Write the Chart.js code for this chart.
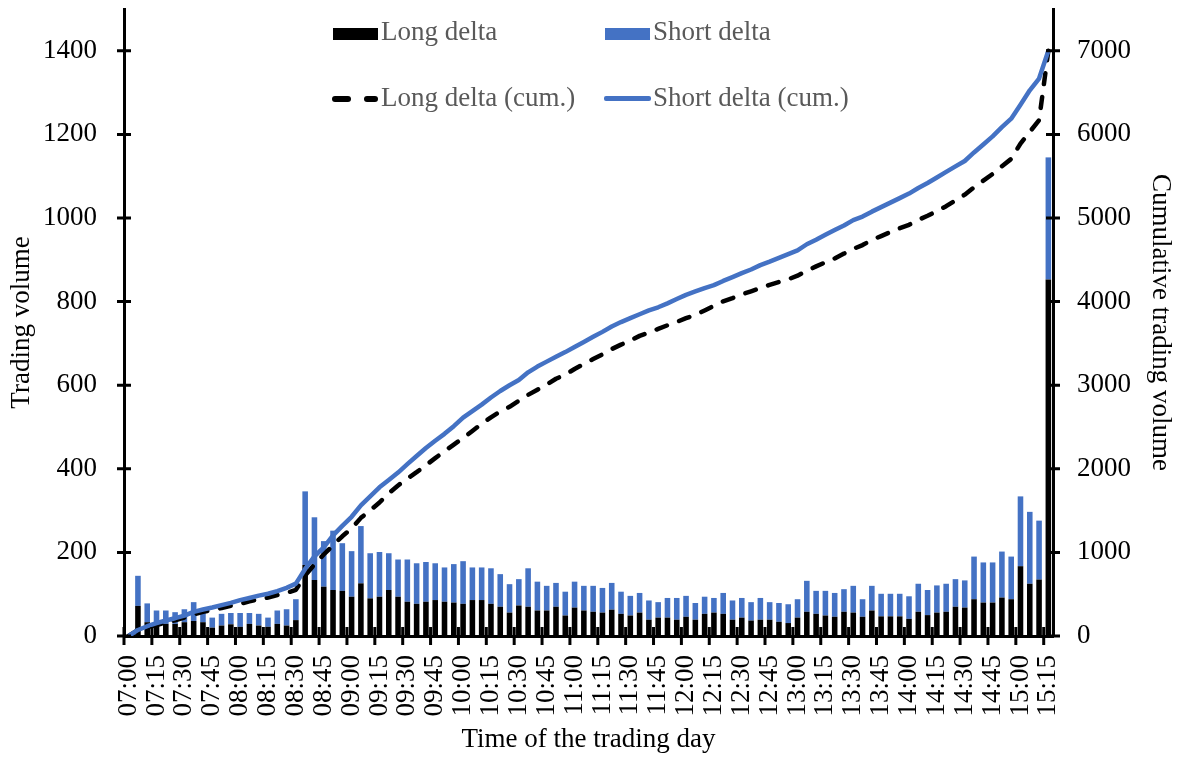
<!DOCTYPE html>
<html>
<head>
<meta charset="utf-8">
<title>Trading volume by time of day</title>
<script src="https://cdn.jsdelivr.net/npm/chart.js@4.4.0/dist/chart.umd.min.js"></script>
<style>
    body { margin: 0; background: #fff; }
    #wrap { position: relative; width: 1182px; height: 758px; }
    .legend-text {
        position: absolute;
        font-family: 'Liberation Serif', serif;
        font-size: 27px;
        line-height: 27px;
        color: #595959;
        white-space: nowrap;
    }
    .legend-mark { position: absolute; }
</style>
</head>
<body>
<div id="wrap">
    <canvas id="deltaChart" width="1182" height="758"></canvas>
    <div id="legend"></div>
</div>
<script>
// 5-minute intervals of the trading day
const categories = [
    '07:00','07:05','07:10','07:15','07:20','07:25','07:30','07:35','07:40','07:45','07:50','07:55',
    '08:00','08:05','08:10','08:15','08:20','08:25','08:30','08:35','08:40','08:45','08:50','08:55',
    '09:00','09:05','09:10','09:15','09:20','09:25','09:30','09:35','09:40','09:45','09:50','09:55',
    '10:00','10:05','10:10','10:15','10:20','10:25','10:30','10:35','10:40','10:45','10:50','10:55',
    '11:00','11:05','11:10','11:15','11:20','11:25','11:30','11:35','11:40','11:45','11:50','11:55',
    '12:00','12:05','12:10','12:15','12:20','12:25','12:30','12:35','12:40','12:45','12:50','12:55',
    '13:00','13:05','13:10','13:15','13:20','13:25','13:30','13:35','13:40','13:45','13:50','13:55',
    '14:00','14:05','14:10','14:15','14:20','14:25','14:30','14:35','14:40','14:45','14:50','14:55',
    '15:00','15:05','15:10','15:15'
];

// Bars (left axis)
const longDelta = [
    0, 72, 33, 25, 29, 29, 33, 36, 33, 20,
    25, 28, 22, 29, 25, 22, 29, 25, 38, 170,
    134, 118, 110, 108, 94, 126, 90, 94, 110, 94,
    82, 77, 82, 86, 82, 80, 77, 86, 86, 77,
    70, 56, 73, 70, 61, 61, 70, 49, 68, 61,
    58, 56, 63, 53, 49, 56, 39, 44, 44, 39,
    46, 39, 53, 56, 53, 39, 44, 37, 39, 39,
    34, 31, 44, 58, 53, 49, 46, 58, 56, 46,
    61, 47, 47, 47, 41, 58, 50, 56, 58, 70,
    68, 88, 80, 80, 92, 88, 167, 125, 135, 853
];
const shortDelta = [
    0, 72, 45, 36, 32, 28, 31, 45, 28, 24,
    28, 27, 33, 26, 28, 22, 32, 39, 50, 176,
    150, 109, 142, 114, 109, 137, 108, 107, 88, 89,
    101, 97, 95, 88, 82, 92, 102, 78, 78, 85,
    78, 68, 63, 92, 69, 59, 57, 57, 62, 59,
    62, 59, 64, 53, 47, 47, 46, 37, 47, 52,
    50, 40, 41, 35, 50, 46, 47, 44, 52, 42,
    45, 45, 44, 74, 55, 59, 57, 54, 64, 42,
    59, 54, 54, 54, 54, 67, 60, 65, 67, 66,
    65, 102, 96, 96, 110, 102, 167, 172, 141, 292
];

// Cumulative lines (right axis)
const longCum = [
    0, 72, 105, 130, 159, 188, 221, 257, 290, 310,
    335, 363, 385, 414, 439, 461, 490, 515, 553, 723,
    857, 975, 1085, 1193, 1287, 1413, 1503, 1597, 1707, 1801,
    1883, 1960, 2042, 2128, 2210, 2290, 2367, 2453, 2539, 2616,
    2686, 2742, 2815, 2885, 2946, 3007, 3077, 3126, 3194, 3255,
    3313, 3369, 3432, 3485, 3534, 3590, 3629, 3673, 3717, 3756,
    3802, 3841, 3894, 3950, 4003, 4042, 4086, 4123, 4162, 4201,
    4235, 4266, 4310, 4368, 4421, 4470, 4516, 4574, 4630, 4676,
    4737, 4784, 4831, 4878, 4919, 4977, 5027, 5083, 5141, 5211,
    5279, 5367, 5447, 5527, 5619, 5707, 5890, 6030, 6170, 7000
];
const shortCum = [
    0, 72, 117, 153, 185, 213, 244, 289, 317, 341,
    369, 396, 429, 455, 483, 505, 537, 576, 626, 802,
    952, 1061, 1203, 1317, 1426, 1563, 1671, 1778, 1866, 1955,
    2056, 2153, 2248, 2336, 2418, 2510, 2612, 2690, 2768, 2853,
    2931, 2999, 3062, 3154, 3223, 3282, 3339, 3396, 3458, 3517,
    3579, 3638, 3702, 3755, 3802, 3849, 3895, 3932, 3979, 4031,
    4081, 4121, 4162, 4197, 4247, 4293, 4340, 4384, 4436, 4478,
    4523, 4568, 4612, 4686, 4741, 4800, 4857, 4911, 4975, 5017,
    5076, 5130, 5184, 5238, 5292, 5359, 5419, 5484, 5551, 5617,
    5682, 5784, 5880, 5976, 6086, 6188, 6355, 6527, 6668, 7000
];

const leftTicks = [0, 200, 400, 600, 800, 1000, 1200, 1400];
const rightTicks = [0, 1000, 2000, 3000, 4000, 5000, 6000, 7000];
const seriesNames = ['Long delta', 'Short delta', 'Long delta (cum.)', 'Short delta (cum.)'];

const BLUE = '#4472C4';
const FONT = "'Liberation Serif', serif";
const FONT_SIZE = 27;

document.addEventListener('DOMContentLoaded', function() {
    Chart.defaults.font.family = FONT;
    Chart.defaults.color = '#000';

    // Excel-style tick marks that cross the axis lines
    const crossTicks = {
        id: 'crossTicks',
        afterDraw(chart) {
            const { ctx, chartArea } = chart;
            const xs = chart.scales.x, ys = chart.scales.y, ys1 = chart.scales.y1;
            ctx.save();
            ctx.strokeStyle = '#000';
            ctx.lineWidth = 3;
            ctx.beginPath();
            leftTicks.forEach(v => {
                const py = ys.getPixelForValue(v);
                ctx.moveTo(chartArea.left - 7, py);
                ctx.lineTo(chartArea.left + 7, py);
            });
            rightTicks.forEach(v => {
                const py = ys1.getPixelForValue(v);
                ctx.moveTo(chartArea.right - 7, py);
                ctx.lineTo(chartArea.right + 7, py);
            });
            const step = xs.getPixelForValue(1) - xs.getPixelForValue(0);
            for (let i = 0; i < categories.length; i += 3) {
                const px = xs.getPixelForValue(i) - step / 2;
                ctx.moveTo(px, chartArea.bottom - 9);
                ctx.lineTo(px, chartArea.bottom + 9);
            }
            ctx.stroke();
            ctx.restore();
        }
    };

    // fixed box sizes so the plot area lands where the original has it
    function fixWidth(w) {
        return function(scale) {
            scale.width = w;
            scale.paddingTop = 0;
            scale.paddingBottom = 0;
        };
    }
    function useTicks(values) {
        return function(scale) {
            scale.ticks = values.map(v => ({ value: v }));
        };
    }

    const ctx = document.getElementById('deltaChart').getContext('2d');
    new Chart(ctx, {
        type: 'bar',
        data: {
            labels: categories.slice(),
            datasets: [{
                label: seriesNames[0],
                data: longDelta,
                backgroundColor: '#000000',
                yAxisID: 'y',
                stack: 'delta',
                order: 2,
                categoryPercentage: 1,
                barPercentage: 0.6
            }, {
                label: seriesNames[1],
                data: shortDelta,
                backgroundColor: BLUE,
                yAxisID: 'y',
                stack: 'delta',
                order: 2,
                categoryPercentage: 1,
                barPercentage: 0.6
            }, {
                type: 'line',
                label: seriesNames[2],
                data: longCum,
                borderColor: '#000000',
                borderWidth: 4.5,
                borderDash: [11, 13],
                borderCapStyle: 'round',
                borderJoinStyle: 'round',
                pointRadius: 0,
                tension: 0,
                fill: false,
                yAxisID: 'y1',
                order: 1
            }, {
                type: 'line',
                label: seriesNames[3],
                data: shortCum,
                borderColor: BLUE,
                borderWidth: 4.5,
                borderJoinStyle: 'round',
                pointRadius: 0,
                tension: 0,
                fill: false,
                yAxisID: 'y1',
                order: 0
            }]
        },
        options: {
            responsive: false,
            animation: false,
            devicePixelRatio: 1,
            layout: { padding: { top: 9, left: 0, right: 0, bottom: 0 } },
            scales: {
                x: {
                    stacked: true,
                    grid: { display: false, drawTicks: false },
                    border: { display: true, color: '#000', width: 3 },
                    ticks: {
                        autoSkip: false,
                        minRotation: 90,
                        maxRotation: 90,
                        padding: 19,
                        font: { size: FONT_SIZE },
                        color: '#000',
                        callback: function(value, index) {
                            return index % 3 === 0 ? categories[index] : '';
                        }
                    },
                    title: {
                        display: true,
                        text: 'Time of the trading day',
                        font: { size: FONT_SIZE },
                        color: '#000',
                        padding: { top: 0, bottom: 2 }
                    },
                    afterFit: function(scale) {
                        scale.height = 122;
                        scale.paddingLeft = 0;
                        scale.paddingRight = 0;
                    }
                },
                y: {
                    stacked: true,
                    position: 'left',
                    min: 0,
                    max: 1500,
                    grid: { display: false, drawTicks: false },
                    border: { display: true, color: '#000', width: 3 },
                    afterBuildTicks: useTicks(leftTicks),
                    ticks: {
                        autoSkip: false,
                        padding: 27,
                        font: { size: FONT_SIZE },
                        color: '#000',
                        callback: function(value) { return String(value); }
                    },
                    title: {
                        display: true,
                        text: 'Trading volume',
                        font: { size: FONT_SIZE },
                        color: '#000',
                        padding: { top: 6, bottom: 0 }
                    },
                    afterFit: fixWidth(124)
                },
                y1: {
                    position: 'right',
                    min: 0,
                    max: 7500,
                    grid: { display: false, drawTicks: false },
                    border: { display: true, color: '#000', width: 3 },
                    afterBuildTicks: useTicks(rightTicks),
                    ticks: {
                        autoSkip: false,
                        padding: 24,
                        font: { size: FONT_SIZE },
                        color: '#000',
                        callback: function(value) { return String(value); }
                    },
                    title: {
                        display: true,
                        text: 'Cumulative trading volume',
                        font: { size: FONT_SIZE },
                        color: '#000',
                        padding: { top: 6, bottom: 0 }
                    },
                    afterFit: fixWidth(129)
                }
            },
            plugins: {
                legend: { display: false },
                tooltip: { enabled: false }
            }
        },
        plugins: [crossTicks]
    });

    // Legend laid over the top of the plot, 2 x 2 like the original
    const legend = document.getElementById('legend');
    function addMark(left, top, width, height, color, radius) {
        const el = document.createElement('div');
        el.className = 'legend-mark';
        el.style.left = left + 'px';
        el.style.top = top + 'px';
        el.style.width = width + 'px';
        el.style.height = height + 'px';
        el.style.background = color;
        if (radius) el.style.borderRadius = radius + 'px';
        legend.appendChild(el);
    }
    function addText(left, top, text) {
        const el = document.createElement('div');
        el.className = 'legend-text';
        el.style.left = left + 'px';
        el.style.top = top + 'px';
        el.textContent = text;
        legend.appendChild(el);
    }

    addMark(333, 28, 45, 12, '#000');
    addText(381, 18, seriesNames[0]);
    addMark(605, 28, 45, 12, BLUE);
    addText(653, 18, seriesNames[1]);
    addMark(332, 96, 19, 6, '#000', 3);
    addMark(364, 96, 14, 6, '#000', 3);
    addText(381, 84, seriesNames[2]);
    addMark(604, 96, 47, 5, BLUE, 2);
    addText(653, 84, seriesNames[3]);
});
</script>
</body>
</html>
